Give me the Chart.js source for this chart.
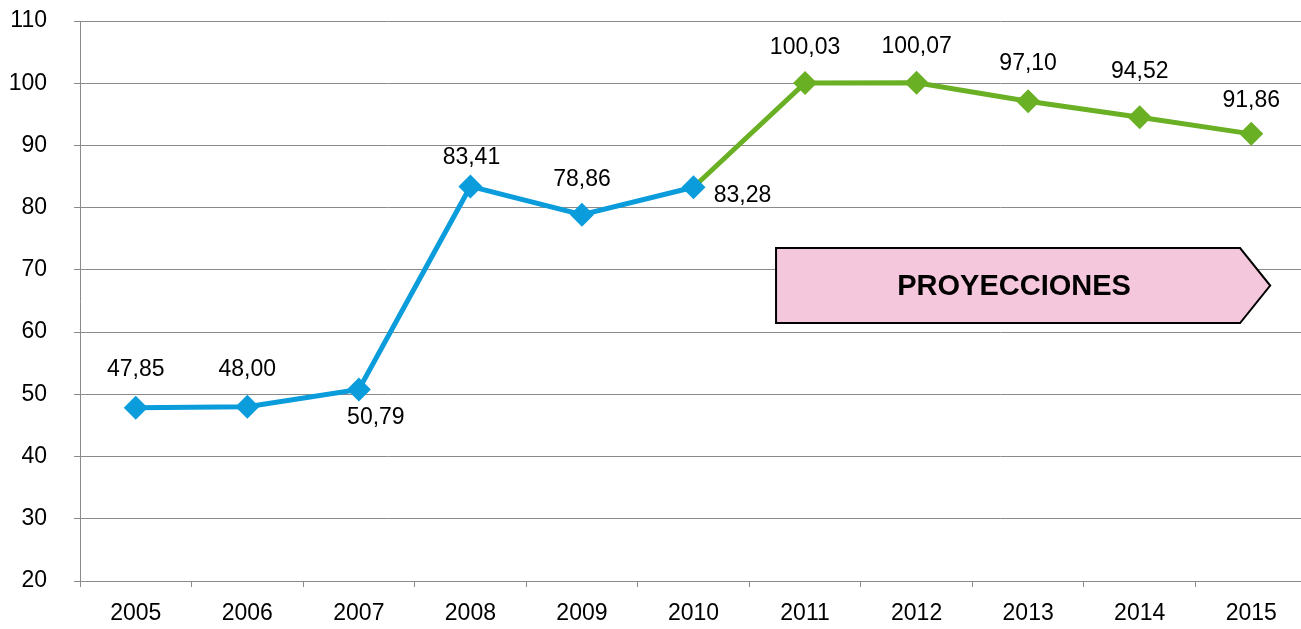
<!DOCTYPE html>
<html>
<head>
<meta charset="utf-8">
<script src="https://cdn.jsdelivr.net/npm/chart.js@4/dist/chart.umd.min.js"></script>
<style>
  html, body { margin: 0; padding: 0; background: #fff; overflow: hidden; }
  #wrap { width: 1301px; height: 629px; overflow: hidden; }
</style>
</head>
<body>
<div id="wrap"><canvas id="c" width="1319" height="629"></canvas></div>
<script>
const years = ['2005', '2006', '2007', '2008', '2009', '2010', '2011', '2012', '2013', '2014', '2015'];
const historico  = [47.85, 48.00, 50.79, 83.41, 78.86, 83.28, null, null, null, null, null];
const proyeccion = [null, null, null, null, null, 83.28, 100.03, 100.07, 97.10, 94.52, 91.86];
const yMin = 20, yMax = 110, yStep = 10;
const bannerText = 'PROYECCIONES';

const FONT = 'Liberation Sans, Arial, sans-serif';
const BLUE = '#0A9CDB';
const GREEN = '#6AB024';
const GRID = '#8a8a8a';

// label offsets in px from the marker, per point (null = no label)
const offHist = [[0, -38], [0, -37], [17, 28], [1, -29], [0, -35], [49, 8]];
const offProy = [null, null, null, null, null, null, [0, -35], [0, -36], [0, -38], [0, -46], [0, -33]];

const fmtVal = v => v.toFixed(2).replace('.', ',');

const valueLabels = {
  id: 'valueLabels',
  afterDatasetsDraw(chart) {
    const ctx = chart.ctx;
    ctx.save();
    ctx.font = '23px ' + FONT;
    ctx.fillStyle = '#000';
    ctx.textAlign = 'center';
    ctx.textBaseline = 'middle';
    chart.data.datasets.forEach((ds, di) => {
      const meta = chart.getDatasetMeta(di);
      meta.data.forEach((pt, i) => {
        const v = ds.data[i];
        const off = ds.labelOffsets[i];
        if (v == null || !off) return;
        ctx.fillText(fmtVal(v), pt.x + off[0], pt.y + off[1]);
      });
    });
    ctx.restore();
  }
};

// arrow-shaped banner over the projected years
const banner = {
  id: 'banner',
  beforeDatasetsDraw(chart) {
    const x = chart.scales.x, y = chart.scales.y, ctx = chart.ctx;
    const l = x.getPixelForValue(5.74), r = x.getPixelForValue(9.9), tip = x.getPixelForValue(10.17);
    const t = y.getPixelForValue(73.5), b = y.getPixelForValue(61.45), m = (t + b) / 2;
    ctx.save();
    ctx.beginPath();
    ctx.moveTo(l, t);
    ctx.lineTo(r, t);
    ctx.lineTo(tip, m);
    ctx.lineTo(r, b);
    ctx.lineTo(l, b);
    ctx.closePath();
    ctx.fillStyle = '#F5C7DC';
    ctx.fill();
    ctx.lineWidth = 2;
    ctx.strokeStyle = '#000';
    ctx.stroke();
    ctx.font = 'bold 29px ' + FONT;
    ctx.fillStyle = '#000';
    ctx.textAlign = 'center';
    ctx.textBaseline = 'middle';
    ctx.fillText(bannerText, (l + r) / 2 + 6, m + 1);
    ctx.restore();
  }
};

new Chart(document.getElementById('c'), {
  type: 'line',
  data: {
    labels: years,
    datasets: [
      { data: historico, borderColor: BLUE, backgroundColor: BLUE, borderWidth: 5,
        pointStyle: 'rectRot', pointRadius: 12, pointBorderWidth: 0, labelOffsets: offHist },
      { data: proyeccion, borderColor: GREEN, backgroundColor: GREEN, borderWidth: 5,
        pointStyle: 'rectRot', pointRadius: proyeccion.map((v, i) => i === 5 ? 0 : 12),
        pointBorderWidth: 0, labelOffsets: offProy },
    ],
  },
  options: {
    responsive: false,
    animation: false,
    layout: { padding: { top: 21, right: 0, left: 0, bottom: 0 } },
    plugins: { legend: { display: false }, tooltip: { enabled: false } },
    scales: {
      x: {
        offset: true,
        grid: { display: true, drawOnChartArea: false, offset: true, tickLength: 6, color: GRID, lineWidth: 1 },
        border: { display: true, color: GRID, width: 1 },
        ticks: { color: '#000', font: { size: 23, family: FONT }, padding: 13, maxRotation: 0 },
        afterFit: s => { s.height = 48; },
      },
      y: {
        min: yMin, max: yMax,
        grid: { color: GRID, lineWidth: 1, tickLength: 6 },
        border: { display: true, color: GRID, width: 1 },
        ticks: { stepSize: yStep, color: '#000', font: { size: 23, family: FONT }, padding: 27 },
        // label padding would otherwise push the plot area down
        afterFit: s => { s.width = 80; s.paddingTop = 0; s.paddingBottom = 0; },
      },
    },
  },
  plugins: [banner, valueLabels],
});
</script>
</body>
</html>
